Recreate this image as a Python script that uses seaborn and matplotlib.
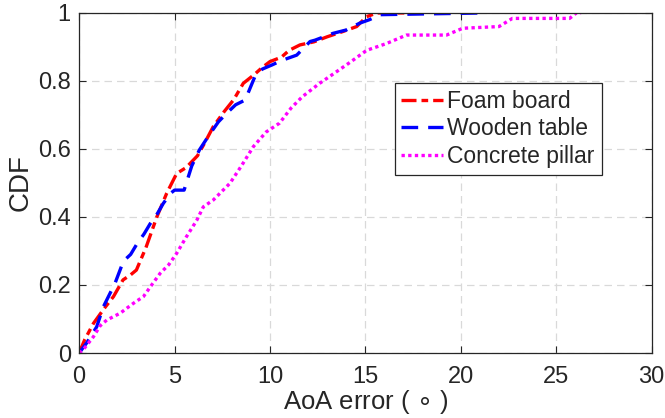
import numpy as np
import pandas as pd
import matplotlib
matplotlib.use("Agg")
import matplotlib.pyplot as plt
import seaborn as sns

# ---- data ----
foam_x = [0, 0.3, 0.75, 1.3, 1.8, 2.3, 2.7, 3.0, 3.5, 4.07, 4.59, 5.11, 5.6, 6.2, 6.6, 7.03,
          7.6, 8.1, 8.6, 9.2, 9.6, 10.0, 10.6, 11.0, 11.57, 12.3, 13.0, 13.8, 14.54, 15.06,
          15.6, 17.85]
foam_y = [0, 0.04, 0.087, 0.13, 0.166, 0.215, 0.23, 0.244, 0.31, 0.40, 0.47, 0.528, 0.545,
          0.58, 0.62, 0.666, 0.71, 0.745, 0.793, 0.82, 0.84, 0.857, 0.87, 0.89, 0.906, 0.915,
          0.93, 0.945, 0.96, 0.989, 1.0, 1.0]

wood_x = [0, 0.4, 0.92, 1.27, 1.88, 2.32, 2.7, 3.02, 3.4, 3.72, 4.1, 4.41, 4.8, 5.0, 5.5,
          5.9, 6.3, 6.8, 7.3, 7.73, 8.2, 8.7, 9.21, 9.6, 10.1, 10.6, 11.4, 12.1, 12.36, 13.3,
          14.0, 14.7, 15.2, 15.8, 21.2]
wood_y = [0, 0.03, 0.077, 0.136, 0.205, 0.27, 0.29, 0.32, 0.35, 0.38, 0.41, 0.44, 0.47,
          0.479, 0.479, 0.55, 0.597, 0.64, 0.68, 0.705, 0.73, 0.744, 0.813, 0.835, 0.847,
          0.86, 0.876, 0.916, 0.92, 0.94, 0.95, 0.97, 0.98, 0.995, 1.0]

conc_x = [0, 0.22, 0.75, 1.1, 1.45, 2.15, 2.84, 3.37, 3.8, 4.24, 4.7, 5.11, 5.6, 6.16, 6.51,
          7.03, 7.9, 8.5, 9.13, 9.8, 10.5, 11.1, 11.7, 12.6, 13.3, 14.2, 15.06, 16.1, 17.15,
          19.25, 20.1, 22.0, 22.7, 25.7, 26.05, 26.3]
conc_y = [0, 0.01, 0.048, 0.08, 0.097, 0.117, 0.146, 0.166, 0.2, 0.234, 0.26, 0.293, 0.34,
          0.39, 0.43, 0.45, 0.499, 0.55, 0.607, 0.65, 0.676, 0.72, 0.754, 0.793, 0.82, 0.855,
          0.89, 0.91, 0.935, 0.935, 0.955, 0.96, 0.984, 0.984, 1.0, 1.0]

labels = ["Foam board", "Wooden table", "Concrete pillar"]
x_ticks = [0, 5, 10, 15, 20, 25, 30]
y_ticks = [0, 0.2, 0.4, 0.6, 0.8, 1]
y_tick_labels = ["0", "0.2", "0.4", "0.6", "0.8", "1"]

# ---- style ----
sns.set_theme(style="ticks")
plt.rcParams["font.family"] = ["Liberation Sans", "DejaVu Sans"]
plt.rcParams["text.color"] = "#262626"
plt.rcParams["axes.labelcolor"] = "#262626"
plt.rcParams["xtick.color"] = "#262626"
plt.rcParams["ytick.color"] = "#262626"

fig = plt.figure(figsize=(6.65, 4.18), dpi=100)
ax = fig.add_axes([0.119, 0.1555, 0.861, 0.8135])

colors = ["#ff0000", "#0000ff", "#ff00ff"]
dashes = [(4.5, 1.5, 2, 1.5), (5, 3), (1, 1)]
series = [(foam_x, foam_y), (wood_x, wood_y), (conc_x, conc_y)]

for (xs, ys), lab, c, d in zip(series, labels, colors, dashes):
    df = pd.DataFrame({"x": xs, "y": ys})
    sns.lineplot(data=df, x="x", y="y", ax=ax, color=c, linewidth=2.4,
                 sort=False, estimator=None, label=lab, dashes=False)
    ax.lines[-1].set_dashes(d)

ax.set_xlim(0, 30)
ax.set_ylim(0, 1)
ax.set_xticks(x_ticks)
ax.set_yticks(y_ticks)
ax.set_yticklabels(y_tick_labels)
ax.tick_params(direction="in", length=5, width=0.8, top=True, right=True,
               labelsize=17)
ax.tick_params(axis="x", pad=9)
ax.tick_params(axis="y", pad=6)
ax.grid(True, linestyle=(0, (6, 4)), color="#d9d9d9", linewidth=0.9)
for s in ax.spines.values():
    s.set_color("#262626")
    s.set_linewidth(0.9)
    s.set_visible(True)

ax.set_xlabel("AoA error ( $\\circ$ )", fontsize=18.5, labelpad=0)
ax.set_ylabel("CDF", fontsize=20, labelpad=3)

leg = ax.legend(loc="upper left", bbox_to_anchor=(0.551, 0.794), fontsize=16.5,
                frameon=True, fancybox=False, edgecolor="#262626", framealpha=1,
                handlelength=1.8, handletextpad=0.2, borderpad=0.3, labelspacing=0.2,
                borderaxespad=0)
leg.get_frame().set_linewidth(0.9)

fig.savefig("out.png", dpi=100)
